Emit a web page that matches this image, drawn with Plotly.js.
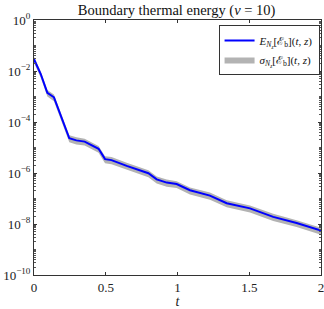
<!DOCTYPE html>
<html>
<head>
<meta charset="utf-8">
<script src="https://cdn.plot.ly/plotly-3.0.1.min.js"></script>
<style>html,body{margin:0;padding:0;background:#fff;}#chart{width:324px;height:309px;}</style>
</head>
<body>
<div id="chart"></div>
<script>
const tValues = [0, 0.047, 0.093, 0.139, 0.246, 0.295, 0.353, 0.45, 0.495, 0.54, 0.646, 0.797, 0.855, 0.925, 0.994, 1.087, 1.226, 1.343, 1.505, 1.667, 1.83, 2.0];
const meanValues = [2.9e-2, 7.6e-3, 1.4e-3, 9.3e-4, 2.3e-5, 1.9e-5, 1.7e-5, 8.9e-6, 3.5e-6, 3.2e-6, 1.9e-6, 9.8e-7, 5.6e-7, 4.2e-7, 3.7e-7, 2.1e-7, 1.3e-7, 6.5e-8, 4.1e-8, 1.9e-8, 1.1e-8, 5.5e-9];
const upperValues = [3.6e-2, 9.5e-3, 1.8e-3, 1.2e-3, 3.0e-5, 2.5e-5, 2.2e-5, 1.15e-5, 4.5e-6, 4.2e-6, 2.5e-6, 1.27e-6, 7.3e-7, 5.5e-7, 4.8e-7, 2.7e-7, 1.7e-7, 8.5e-8, 5.3e-8, 2.5e-8, 1.4e-8, 7.2e-9];
const lowerValues = [2.1e-2, 5.4e-3, 1.0e-3, 6.5e-4, 1.6e-5, 1.3e-5, 1.2e-5, 6.2e-6, 2.4e-6, 2.2e-6, 1.3e-6, 6.8e-7, 3.9e-7, 2.9e-7, 2.6e-7, 1.45e-7, 9.0e-8, 4.5e-8, 2.8e-8, 1.3e-8, 7.6e-9, 3.8e-9];
const yTickVals = [1, 1e-2, 1e-4, 1e-6, 1e-8, 1e-10];
const yTickText = ['10<sup>0</sup>', '10<sup>−2</sup>', '10<sup>−4</sup>', '10<sup>−6</sup>', '10<sup>−8</sup>', '10<sup>−10</sup>'];
const xTickVals = [0, 0.5, 1, 1.5, 2];
const xTickText = ['0', '0.5', '1', '1.5', '2'];

const minorVals = [];
for (let e = -10; e < 0; e++) {
  for (let m = 1; m <= 9; m++) {
    const v = m * Math.pow(10, e);
    if (!(m === 1 && e % 2 === 0)) minorVals.push(v);
  }
}

const bandX = tValues.concat(tValues.slice().reverse());
const bandY = upperValues.concat(lowerValues.slice().reverse());

const serif = 'Liberation Serif, DejaVu Serif, serif';
const axisColor = '#333333';

const data = [
  {
    x: bandX, y: bandY, type: 'scatter', mode: 'lines', fill: 'toself',
    fillcolor: '#b3b3b3', line: {width: 0, color: '#b3b3b3'},
    name: '<i>σ</i><sub><i>N<sub>z</sub></i></sub>[ℰ<sub>b</sub>](<i>t</i>, <i>z</i>)',
    hoverinfo: 'skip'
  },
  {
    x: tValues, y: meanValues, type: 'scatter', mode: 'lines',
    line: {color: '#0000ff', width: 2},
    name: '<i>E</i><sub><i>N<sub>z</sub></i></sub>[ℰ<sub>b</sub>](<i>t</i>, <i>z</i>)'
  }
];

const layout = {
  width: 324, height: 309,
  margin: {l: 34, r: 3, t: 20, b: 34, pad: 0},
  paper_bgcolor: '#ffffff', plot_bgcolor: '#ffffff',
  font: {family: serif, size: 13, color: '#222'},
  title: {text: 'Boundary thermal energy (<i>ν</i> = 10)', font: {family: serif, size: 14.5, color: '#111'}, x: 0.545, xanchor: 'center', y: 0.985, yanchor: 'top'},
  showlegend: true,
  legend: {
    x: 0.995, xanchor: 'right', y: 0.98, yanchor: 'top',
    bgcolor: '#ffffff', bordercolor: '#333', borderwidth: 1,
    font: {family: serif, size: 11, color: '#111'},
    traceorder: 'reversed', tracegroupgap: 0, itemwidth: 30
  },
  xaxis: {
    range: [0, 2], tickvals: xTickVals, ticktext: xTickText,
    ticks: 'inside', ticklen: 3, tickcolor: axisColor, mirror: 'ticks',
    showline: true, linecolor: axisColor, linewidth: 1, showgrid: false, zeroline: false,
    ticklabeloverflow: 'allow',
    tickfont: {family: serif, size: 13, color: '#222'},
    title: {text: '<i>t</i>', font: {family: serif, size: 14, color: '#222'}, standoff: 3}
  },
  yaxis: {
    type: 'log', range: [-10, 0], tickvals: yTickVals, ticktext: yTickText,
    ticks: 'inside', ticklen: 3, tickcolor: axisColor, mirror: 'ticks',
    showline: true, linecolor: axisColor, linewidth: 1, showgrid: false, zeroline: false,
    ticklabeloverflow: 'allow',
    tickfont: {family: serif, size: 13, color: '#222'},
    minor: {tickvals: minorVals, ticks: 'inside', ticklen: 2, tickcolor: '#555', showgrid: false}
  }
};

Plotly.newPlot('chart', data, layout, {staticPlot: true, displayModeBar: false});
</script>
</body>
</html>
